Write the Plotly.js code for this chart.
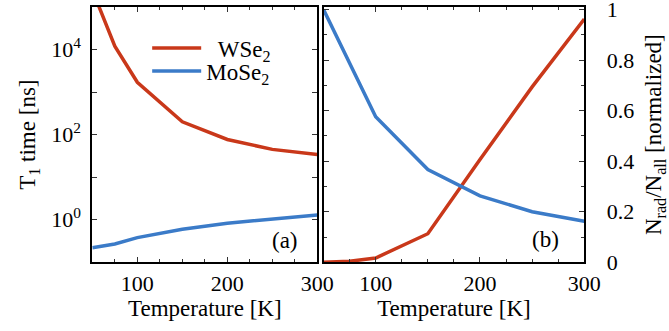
<!DOCTYPE html>
<html>
<head>
<meta charset="utf-8">
<script src="https://cdn.plot.ly/plotly-3.0.1.min.js"></script>
<style>html,body{margin:0;padding:0;background:#fff;}#chart{width:669px;height:331px;}</style>
</head>
<body>
<div id="chart"></div>
<script>
// Panel (a): T1 time vs temperature
const temperature = [50, 75, 100, 150, 200, 250, 300];
const t1WSe2 = [250000, 12000, 1700, 200, 77, 45, 34];
const t1MoSe2 = [0.22, 0.27, 0.38, 0.6, 0.83, 1.05, 1.3];

// Panel (b): normalized radiative fraction vs temperature
const nradWSe2 = [0, 0.004, 0.017, 0.113, 0.407, 0.694, 0.962];
const nradMoSe2 = [1.0, 0.79, 0.576, 0.367, 0.263, 0.20, 0.162];

const logTickVals = [0.1, 1, 10, 100, 1000, 10000, 100000];
const logTickText = ['', '10<sup>0</sup>', '', '10<sup>2</sup>', '', '10<sup>4</sup>', ''];

const RED = '#c9381a';
const BLUE = '#3b7bc8';
const FONT = '"Liberation Serif", "Times New Roman", Times, "DejaVu Serif", serif';

const traces = [
  {x: temperature, y: t1WSe2, xaxis: 'x', yaxis: 'y', mode: 'lines', name: '\u00A0\u00A0WSe<sub>2</sub>',
   line: {color: RED, width: 3.5}, legend: 'legend'},
  {x: temperature, y: t1MoSe2, xaxis: 'x', yaxis: 'y', mode: 'lines', name: 'MoSe<sub>2</sub>',
   line: {color: BLUE, width: 3.5}, legend: 'legend2'},
  {x: temperature, y: nradWSe2, xaxis: 'x2', yaxis: 'y2', mode: 'lines', name: 'WSe2 (b)',
   line: {color: RED, width: 3.5}, showlegend: false},
  {x: temperature, y: nradMoSe2, xaxis: 'x2', yaxis: 'y2', mode: 'lines', name: 'MoSe2 (b)',
   line: {color: BLUE, width: 3.5}, showlegend: false}
];

const axisCommon = {
  showline: true, linecolor: '#000', linewidth: 2, mirror: 'ticks',
  ticks: 'inside', ticklen: 5, tickwidth: 1, tickcolor: '#333',
  showgrid: false, zeroline: false, ticklabeloverflow: 'allow',
  tickfont: {family: FONT, size: 22, color: '#000'}
};

const xCommon = Object.assign({}, axisCommon, {
  range: [50, 300], tick0: 0, dtick: 100,
  minor: {tick0: 0, dtick: 25, ticks: 'inside', ticklen: 3, tickcolor: '#333'},
  ticklabelstandoff: 0,
  title: {text: 'Temperature [K]', font: {family: FONT, size: 23, color: '#000'}, standoff: 0}
});

const layout = {
  width: 669, height: 331,
  margin: {l: 0, r: 0, t: 0, b: 0},
  paper_bgcolor: '#fff', plot_bgcolor: '#fff',
  font: {family: FONT, color: '#000'},
  xaxis: Object.assign({}, xCommon, {domain: [0.138, 0.4743], anchor: 'y'}),
  xaxis2: Object.assign({}, xCommon, {domain: [0.4836, 0.8734], anchor: 'y2'}),
  yaxis: Object.assign({}, axisCommon, {
    domain: [0.2076, 0.9789], anchor: 'x', type: 'log', range: [-1, 5],
    tickmode: 'array', tickvals: logTickVals, ticktext: logTickText,
    ticklabelstandoff: 5,
    title: {text: 'T<sub>1</sub> time [ns]', font: {family: FONT, size: 23, color: '#000'}, standoff: 9}
  }),
  yaxis2: Object.assign({}, axisCommon, {
    domain: [0.2076, 0.9789], anchor: 'x2', side: 'right', range: [0, 1.01],
    tick0: 0, dtick: 0.2,
    minor: {tick0: 0, dtick: 0.1, ticks: 'inside', ticklen: 3, tickcolor: '#333'},
    ticklabelstandoff: 16,
    title: {text: 'N<sub>rad</sub>/N<sub>all</sub> [normalized]', font: {family: FONT, size: 23, color: '#000'}, standoff: 13}
  }),
  legend: {x: 0.22, y: 1 - 48 / 331, xanchor: 'left', yanchor: 'middle', bgcolor: 'rgba(0,0,0,0)',
           borderwidth: 0, itemwidth: 49, font: {family: FONT, size: 23, color: '#000'}},
  legend2: {x: 0.22, y: 1 - 71 / 331, xanchor: 'left', yanchor: 'middle', bgcolor: 'rgba(0,0,0,0)',
            borderwidth: 0, itemwidth: 49, font: {family: FONT, size: 23, color: '#000'}},
  annotations: [
    {text: '(a)', xref: 'x domain', yref: 'y domain', x: 0.856, y: 0.087, showarrow: false,
     xanchor: 'center', yanchor: 'middle', font: {family: FONT, size: 23, color: '#000'}},
    {text: '(b)', xref: 'x2 domain', yref: 'y2 domain', x: 0.851, y: 0.091, showarrow: false,
     xanchor: 'center', yanchor: 'middle', font: {family: FONT, size: 23, color: '#000'}}
  ],
  showlegend: true
};

Plotly.newPlot('chart', traces, layout, {staticPlot: true, displayModeBar: false});
</script>
</body>
</html>
